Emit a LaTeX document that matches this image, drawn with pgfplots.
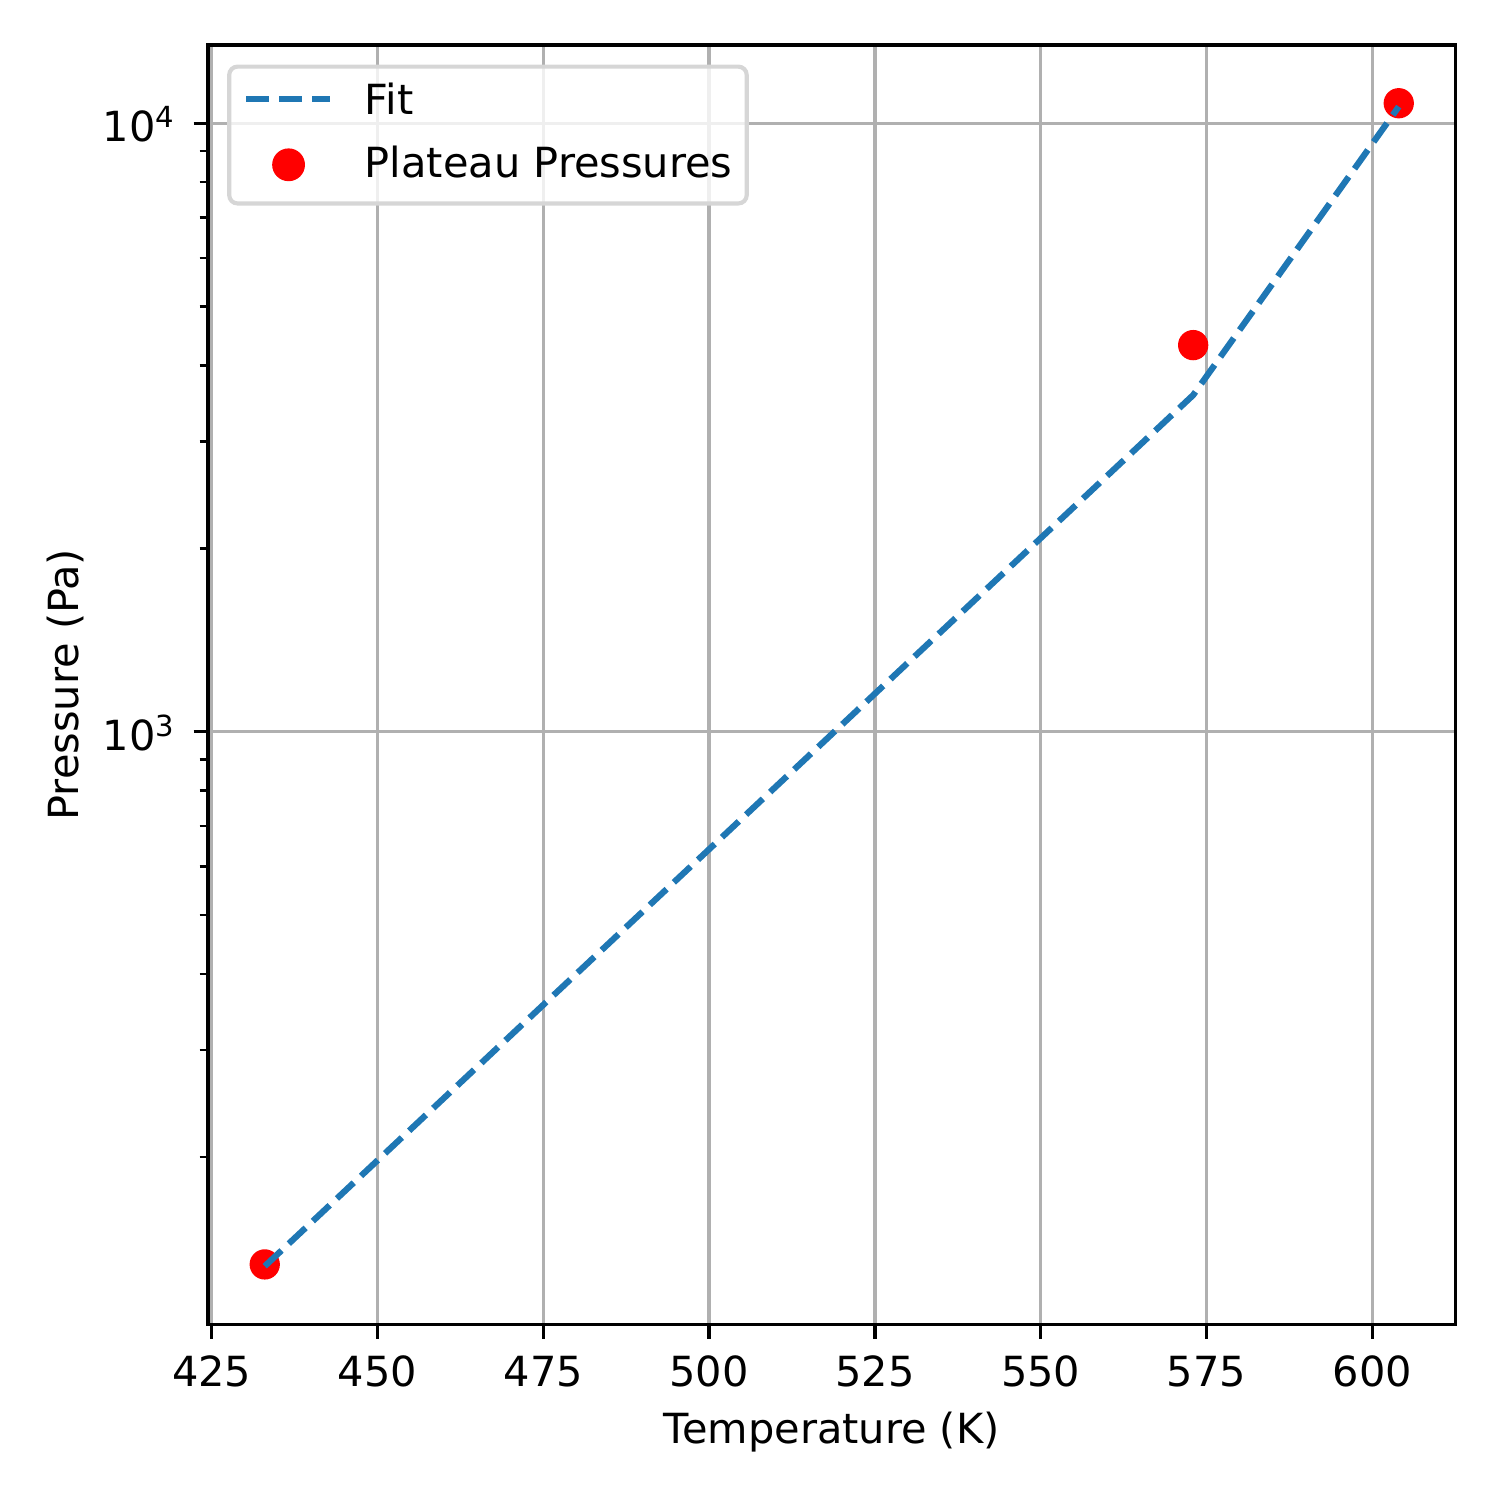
\documentclass[border=0pt]{standalone}
\usepackage{fontspec}
\setmainfont{DejaVu Sans}
\usepackage{pgfplots}
\pgfplotsset{compat=1.18}

\definecolor{fitblue}{HTML}{1F77B4}
\definecolor{gridgray}{HTML}{B0B0B0}
\definecolor{legendedge}{RGB}{214,214,214}

% decade labels set in the text font, small raised exponent
\newcommand{\decade}[1]{10\raisebox{3.3pt}{\fontsize{7pt}{7pt}\selectfont #1}}

% legend handles: a dot and a short dashed line
\pgfplotsset{
  dothandle/.style={legend image code/.code={\draw[##1, opacity=1] plot coordinates {(10.15pt,2.95pt)};}},
  dashhandle/.style={legend image code/.code={\draw[##1, opacity=1] (0pt,3.84pt) -- (20.2pt,3.84pt);}},
}

\begin{document}
\begin{tikzpicture}
\path[use as bounding box] (-0.6935in,-0.5857in) rectangle (4.3063in,4.4143in);
\begin{axis}[
  at={(0,0)}, anchor=south west,
  scale only axis,
  width=4.158in, height=4.264in,
  ymode=log,
  xmin=424.45, xmax=612.55,
  ymin=106.2, ymax=13445,
  xtick={425,450,475,500,525,550,575,600},
  ytick={1000,10000},
  yticklabels={\decade{3},\decade{4}},
  minor ytick={200,300,400,500,600,700,800,900,2000,3000,4000,5000,6000,7000,8000,9000},
  /pgf/number format/assume math mode=true,
  /pgf/number format/1000 sep={},
  grid=major,
  major grid style={color=gridgray, line width=0.8pt},
  tick pos=left,
  tick align=outside,
  major tick length=3.5pt,
  minor tick length=2pt,
  every major tick/.style={black, line width=0.8pt},
  every minor tick/.style={black, line width=0.6pt},
  axis line style={line width=0.8pt},
  clip marker paths=true,
  tick label style={font=\fontsize{10pt}{12pt}\selectfont, inner sep=0pt},
  xticklabel style={anchor=base, yshift=-11.53pt},
  yticklabel style={anchor=base east, xshift=-4.46pt, yshift=-4.41pt},
  label style={font=\fontsize{10pt}{12pt}\selectfont, inner sep=0pt},
  xlabel={Temperature (K)},
  ylabel={Pressure (Pa)},
  xlabel style={at={(axis description cs:0.5,-0.0930)}, anchor=base},
  ylabel style={at={(axis description cs:-0.1035,0.5)}, anchor=base},
  reverse legend,
  legend cell align=left,
  legend style={
    at={(axis description cs:0,1)}, anchor=north west,
    xshift=4.6pt, yshift=-4.7pt,
    draw=legendedge, line width=1pt, rounded corners=2pt,
    fill=white, fill opacity=0.8, draw opacity=1, text opacity=1,
    inner xsep=3.4pt, inner ysep=4.3pt,
    row sep=5.64pt,
    font=\fontsize{10pt}{12pt}\selectfont,
    nodes={inner xsep=0pt, inner ysep=0pt, text height=7.3pt, text depth=2.06pt, anchor=base west},
    /tikz/every odd column/.style={column sep=7.6pt},
  },
]

% measured plateau pressures
\addplot[only marks, mark=*, mark size=3.45pt, color=red, draw=none, fill=red, dothandle]
  coordinates {(433,133.2) (573,4319) (604,10787)};
\addlegendentry{Plateau Pressures\hspace{1.2pt}}

% fitted curve through the three temperatures
\addplot[color=fitblue, line width=1.5pt, dash pattern=on 5.55pt off 2.4pt, mark=none, dashhandle]
  coordinates {(433,132.3) (573,3575) (604,10650)};
\addlegendentry{Fit}

\end{axis}
\end{tikzpicture}
\end{document}
